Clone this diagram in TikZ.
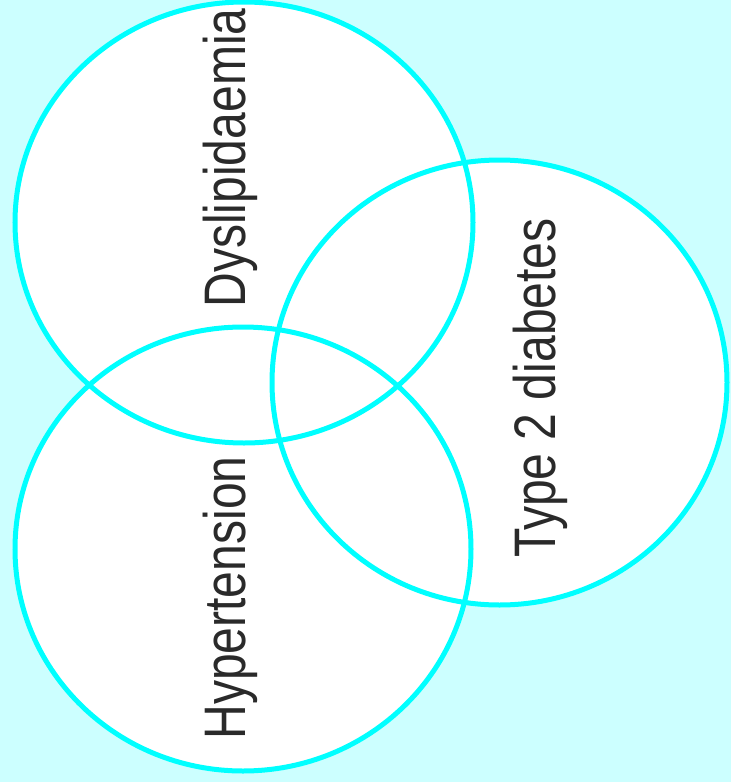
\documentclass[tikz,border=0pt]{standalone}
\usepackage{fontspec}
\setmainfont{Liberation Sans}[FakeStretch=0.82]
\definecolor{bgc}{HTML}{CCFFFF}
\definecolor{ringc}{HTML}{00FFFF}
\definecolor{labelc}{HTML}{2A2A2A}
\begin{document}
\begin{tikzpicture}[x=1pt,y=-1pt,
  ring/.style={draw=ringc, line width=5pt},
  lbl/.style={rotate=90, anchor=base, font=\fontsize{58.6}{60}\selectfont, text=labelc, inner sep=0pt}]
\fill[bgc] (0,0) rectangle (731,782);
\useasboundingbox (0,0) rectangle (731,782);
% white fills
\fill[white] (244,222.5) ellipse [x radius=229, y radius=220.5];
\fill[white] (499.5,382.5) ellipse [x radius=227.5, y radius=222.5];
\fill[white] (243,549) ellipse [x radius=228, y radius=222];
% strokes
\draw[ring] (244,222.5) ellipse [x radius=229, y radius=220.5];
\draw[ring] (499.5,382.5) ellipse [x radius=227.5, y radius=222.5];
\draw[ring] (243,549) ellipse [x radius=228, y radius=222];
% labels
\node[lbl] (dys) at (245,158) {Dyslipidaemia};
\node[lbl] (t2d) at (555,388) {Type 2 diabetes};
\node[lbl] (hyp) at (245,598) {Hypertension};
\end{tikzpicture}
\end{document}
